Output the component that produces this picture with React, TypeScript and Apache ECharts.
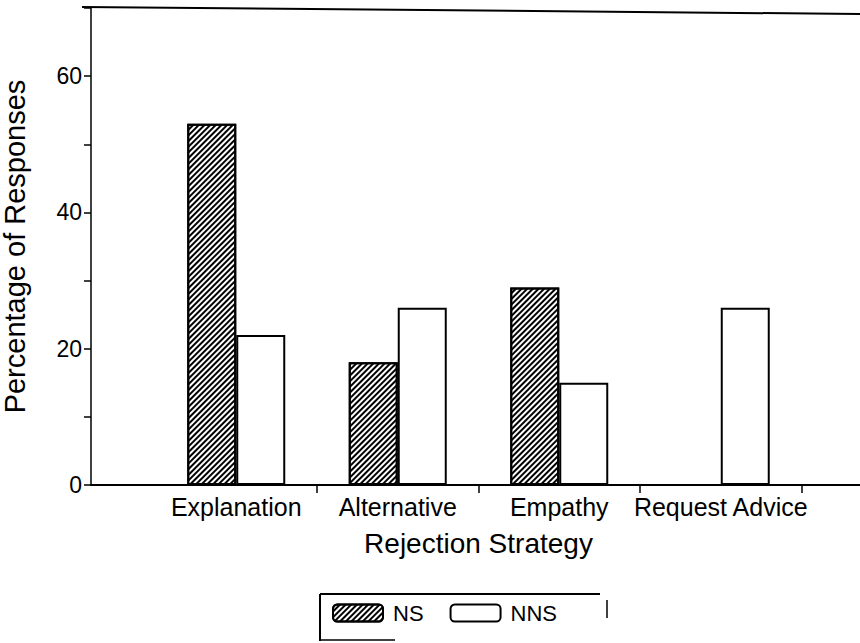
import React, { useEffect, useRef } from "react";
import * as echarts from "echarts";

const categories = ["Explanation", "Alternative", "Empathy", "Request Advice"];
const nsValues = [53, 18, 29, 0];
const nnsValues = [22, 26, 15, 26];
const seriesNames = ["NS", "NNS"];
const yLabelValues = [0, 20, 40, 60];

const FONT = "'Liberation Sans', Arial, Helvetica, sans-serif";

export default function App() {
  const ref = useRef<HTMLDivElement>(null);
  useEffect(() => {
    if (!ref.current) return;
    const chart = echarts.init(ref.current, null, { renderer: "svg" });
    const hatch = {
      symbol: "rect",
      symbolSize: 1,
      color: "#000",
      backgroundColor: "#fff",
      dashArrayX: [1, 0],
      dashArrayY: [2, 2],
      rotation: -Math.PI / 4,
    };
    const option: any = {
      animation: false,
      backgroundColor: "#fff",
      textStyle: { fontFamily: FONT, color: "#000" },
      grid: [
        { left: 91, right: 0, top: 8, bottom: 158, containLabel: false, outerBoundsMode: "none" },
        { left: 155.5, right: 58.5, top: 8, bottom: 158, containLabel: false, outerBoundsMode: "none" },
      ],
      xAxis: [
        {
          type: "value",
          gridIndex: 0,
          min: 0,
          max: 1,
          axisLine: { show: true, lineStyle: { color: "#000", width: 2 } },
          axisTick: { show: false },
          axisLabel: { show: false },
          splitLine: { show: false },
        },
        {
          type: "category",
          gridIndex: 1,
          data: categories,
          name: "Rejection Strategy",
          nameLocation: "middle",
          nameGap: 44,
          nameTextStyle: { fontSize: 28, fontFamily: FONT, color: "#000" },
          axisLine: { show: false },
          axisTick: {
            show: true,
            length: 8,
            interval: (i: number) => i >= 1,
            lineStyle: { color: "#000", width: 1.5 },
          },
          axisLabel: { fontSize: 25, fontFamily: FONT, color: "#000", margin: 9, interval: 0 },
          splitLine: { show: false },
        },
      ],
      yAxis: [
        {
          type: "value",
          gridIndex: 0,
          min: 0,
          max: 70,
          interval: 10,
          name: "Percentage of Responses",
          nameLocation: "middle",
          nameGap: 62,
          nameTextStyle: { fontSize: 29, fontFamily: FONT, color: "#000" },
          axisLine: { show: true, lineStyle: { color: "#000", width: 1.5 } },
          axisTick: { show: true, length: 7, lineStyle: { color: "#000", width: 1.5 } },
          axisLabel: {
            fontSize: 23,
            fontFamily: FONT,
            color: "#000",
            margin: 9,
            formatter: (v: number) => (yLabelValues.includes(v) ? String(v) : ""),
          },
          splitLine: { show: false },
        },
        {
          type: "value",
          gridIndex: 1,
          min: 0,
          max: 70,
          show: false,
        },
      ],
      legend: {
        left: 332,
        top: 602,
        padding: 0,
        itemWidth: 50,
        itemHeight: 17,
        itemGap: 26,
        textStyle: { fontSize: 22, fontFamily: FONT, color: "#000", padding: [0, 0, 0, 5] },
        data: seriesNames,
      },
      series: [
        {
          name: seriesNames[0],
          type: "bar",
          xAxisIndex: 1,
          yAxisIndex: 1,
          data: nsValues,
          barWidth: 49,
          barGap: "0%",
          itemStyle: { color: "#fff", borderColor: "#000", borderWidth: 2, decal: hatch },
        },
        {
          name: seriesNames[1],
          type: "bar",
          xAxisIndex: 1,
          yAxisIndex: 1,
          data: nnsValues,
          barWidth: 49,
          barGap: "0%",
          itemStyle: { color: "#fff", borderColor: "#000", borderWidth: 2 },
        },
      ],
      graphic: [
        { type: "line", shape: { x1: 82, y1: 7, x2: 860, y2: 14 }, style: { stroke: "#000", lineWidth: 2 } },
        { type: "line", shape: { x1: 320, y1: 594, x2: 600, y2: 594 }, style: { stroke: "#000", lineWidth: 2 } },
        { type: "line", shape: { x1: 320, y1: 594, x2: 320, y2: 641 }, style: { stroke: "#000", lineWidth: 2 } },
        { type: "line", shape: { x1: 320, y1: 640, x2: 395, y2: 640 }, style: { stroke: "#000", lineWidth: 1.5 } },
        { type: "line", shape: { x1: 607, y1: 600, x2: 607, y2: 618 }, style: { stroke: "#000", lineWidth: 1.5 } },
      ],
    };
    chart.setOption(option);
    return () => chart.dispose();
  }, []);
  return <div ref={ref} style={{ width: 860, height: 643, position: "absolute", left: 0, top: 0 }} />;
}
